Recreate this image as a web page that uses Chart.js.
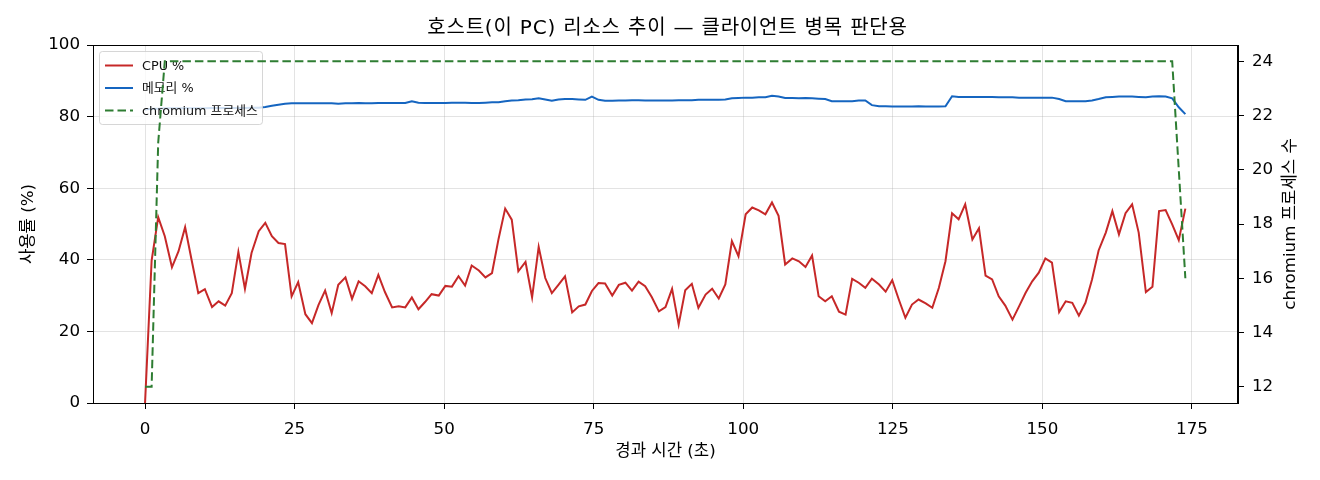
<!DOCTYPE html>
<html>
<head>
<meta charset="utf-8">
<script src="https://cdn.jsdelivr.net/npm/chart.js"></script>
<style>
  html, body { margin: 0; padding: 0; background: #fff; }
  #wrap { width: 1320px; height: 480px; }
</style>
</head>
<body>
<div id="wrap"><canvas id="host-chart" width="1320" height="480"></canvas></div>
<script>
// elapsed seconds of each sample
const elapsed = [
  0.0, 1.1, 2.2, 3.3, 4.5, 5.6, 6.7, 7.8, 8.9, 10.0, 11.2, 12.3, 13.4, 14.5, 15.6, 16.7,
  17.8, 19.0, 20.1, 21.2, 22.3, 23.4, 24.5, 25.6, 26.8, 27.9, 29.0, 30.1, 31.2, 32.3, 33.5,
  34.6, 35.7, 36.8, 37.9, 39.0, 40.1, 41.3, 42.4, 43.5, 44.6, 45.7, 46.8, 47.9, 49.1, 50.2,
  51.3, 52.4, 53.5, 54.6, 55.8, 56.9, 58.0, 59.1, 60.2, 61.3, 62.4, 63.6, 64.7, 65.8, 66.9,
  68.0, 69.1, 70.2, 71.4, 72.5, 73.6, 74.7, 75.8, 76.9, 78.1, 79.2, 80.3, 81.4, 82.5, 83.6,
  84.7, 85.9, 87.0, 88.1, 89.2, 90.3, 91.4, 92.5, 93.7, 94.8, 95.9, 97.0, 98.1, 99.2, 100.4,
  101.5, 102.6, 103.7, 104.8, 105.9, 107.0, 108.2, 109.3, 110.4, 111.5, 112.6, 113.7, 114.8,
  116.0, 117.1, 118.2, 119.3, 120.4, 121.5, 122.7, 123.8, 124.9, 126.0, 127.1, 128.2, 129.3,
  130.5, 131.6, 132.7, 133.8, 134.9, 136.0, 137.1, 138.3, 139.4, 140.5, 141.6, 142.7, 143.8,
  145.0, 146.1, 147.2, 148.3, 149.4, 150.5, 151.6, 152.8, 153.9, 155.0, 156.1, 157.2, 158.3,
  159.4, 160.6, 161.7, 162.8, 163.9, 165.0, 166.1, 167.3, 168.4, 169.5, 170.6, 171.7, 172.8,
  173.9
];

const cpuPct = [
  0, 39.8, 51.9, 46.6, 37.9, 42.4, 49.1, 39.8, 30.7, 31.8, 26.8, 28.4, 27.2, 30.7, 42.2, 31.9,
  41.9, 48.0, 50.3, 46.6, 44.7, 44.4, 29.8, 33.8, 24.8, 22.3, 27.4, 31.4, 25.1, 33.0, 35.1,
  29.1, 34.0, 32.6, 30.7, 35.8, 31.0, 26.7, 27.0, 26.7, 29.5, 26.2, 28.2, 30.4, 30.0, 32.7,
  32.5, 35.4, 32.8, 38.4, 37.0, 35.1, 36.3, 45.9, 54.3, 51.2, 36.8, 39.4, 29.5, 43.6, 34.9,
  30.7, 33.0, 35.4, 25.3, 27.0, 27.5, 31.3, 33.5, 33.4, 30.0, 33.0, 33.6, 31.4, 33.9, 32.6,
  29.6, 25.6, 26.8, 31.9, 21.9, 31.5, 33.3, 26.6, 30.3, 31.9, 29.2, 33.1, 45.2, 41.0, 52.7,
  54.6, 53.8, 52.7, 56.0, 52.3, 38.7, 40.4, 39.6, 38.0, 41.2, 29.8, 28.4, 29.8, 25.5, 24.7,
  34.7, 33.6, 32.2, 34.7, 33.1, 31.1, 34.3, 28.9, 23.8, 27.5, 28.9, 27.8, 26.6, 32.2, 39.6,
  53.0, 51.3, 55.5, 45.7, 48.8, 35.6, 34.5, 29.8, 27.2, 23.3, 27.0, 30.8, 34.0, 36.4, 40.4,
  39.2, 25.4, 28.4, 28.0, 24.4, 28.0, 34.5, 42.6, 47.6, 53.6, 47.1, 53.0, 55.5, 47.6, 31.0,
  32.5, 53.6, 53.9, 49.9, 45.5, 54.3
];

const memPct = [
  82.0, 82.2, 82.2, 82.3, 82.3, 82.3, 82.3, 82.3, 82.3, 82.3, 82.4, 82.4, 82.4, 82.4, 82.4, 82.4,
  82.5, 82.5, 82.7, 83.0, 83.3, 83.6, 83.7, 83.7, 83.7, 83.7, 83.7, 83.7, 83.7, 83.6, 83.7,
  83.7, 83.8, 83.7, 83.7, 83.8, 83.8, 83.8, 83.8, 83.8, 84.3, 83.9, 83.8, 83.8, 83.8, 83.8,
  83.9, 83.9, 83.9, 83.8, 83.8, 83.9, 84.0, 84.0, 84.3, 84.5, 84.6, 84.8, 84.85, 85.1, 84.8,
  84.4, 84.8, 84.9, 84.9, 84.8, 84.7, 85.6, 84.7, 84.4, 84.4, 84.5, 84.5, 84.6, 84.6, 84.5,
  84.5, 84.5, 84.5, 84.5, 84.6, 84.6, 84.6, 84.7, 84.7, 84.7, 84.7, 84.8, 85.1, 85.2, 85.3,
  85.3, 85.4, 85.4, 85.8, 85.6, 85.2, 85.2, 85.1, 85.2, 85.1, 85.0, 84.9, 84.3, 84.3, 84.3,
  84.3, 84.5, 84.5, 83.2, 82.9, 82.9, 82.8, 82.8, 82.8, 82.8, 82.9, 82.8, 82.8, 82.8, 82.9,
  85.7, 85.5, 85.5, 85.5, 85.5, 85.5, 85.5, 85.4, 85.4, 85.4, 85.3, 85.3, 85.3, 85.3, 85.3,
  85.3, 84.9, 84.3, 84.3, 84.3, 84.3, 84.5, 84.9, 85.4, 85.5, 85.6, 85.6, 85.6, 85.5, 85.4,
  85.6, 85.7, 85.6, 85.1, 82.6, 80.7
];

const chromiumProcs = [
  12, 12, 21, 24, 24, 24, 24, 24, 24, 24, 24, 24, 24, 24, 24, 24,
  24, 24, 24, 24, 24, 24, 24, 24, 24, 24, 24, 24, 24, 24, 24,
  24, 24, 24, 24, 24, 24, 24, 24, 24, 24, 24, 24, 24, 24, 24,
  24, 24, 24, 24, 24, 24, 24, 24, 24, 24, 24, 24, 24, 24, 24,
  24, 24, 24, 24, 24, 24, 24, 24, 24, 24, 24, 24, 24, 24, 24,
  24, 24, 24, 24, 24, 24, 24, 24, 24, 24, 24, 24, 24, 24, 24,
  24, 24, 24, 24, 24, 24, 24, 24, 24, 24, 24, 24, 24, 24, 24,
  24, 24, 24, 24, 24, 24, 24, 24, 24, 24, 24, 24, 24, 24, 24,
  24, 24, 24, 24, 24, 24, 24, 24, 24, 24, 24, 24, 24, 24, 24,
  24, 24, 24, 24, 24, 24, 24, 24, 24, 24, 24, 24, 24, 24, 24,
  24, 24, 24, 24, 20, 16
];

const xTicks = [0, 25, 50, 75, 100, 125, 150, 175];
const seriesNames = ['CPU %', '메모리 %', 'chromium 프로세스'];

const FONT = "'DejaVu Sans', 'Noto Sans CJK KR', sans-serif";
const GRID = 'rgba(176,176,176,0.35)';
const TICK_PX = 16.7;

function points(ys) {
    return elapsed.map((t, i) => ({ x: t, y: ys[i] }));
}

// matplotlib style legend box in the upper-left corner, drawn under the chromium line
const boxLegend = {
    id: 'boxLegend',
    afterDatasetDraw(chart, args) {
        if (args.index !== 1) return;
        const ctx = chart.ctx;
        const x = 99.5, y = 51.5, w = 163, h = 73;
        ctx.save();
        ctx.beginPath();
        ctx.roundRect(x, y, w, h, 3);
        ctx.fillStyle = 'rgba(255,255,255,0.8)';
        ctx.fill();
        ctx.strokeStyle = 'rgba(204,204,204,0.8)';
        ctx.lineWidth = 1;
        ctx.stroke();
        ctx.font = '12.8px ' + FONT;
        ctx.textBaseline = 'middle';
        chart.data.datasets.forEach((ds, i) => {
            const ry = 65.5 + i * 22.5;
            ctx.beginPath();
            ctx.setLineDash(ds.borderDash || []);
            ctx.strokeStyle = ds.borderColor;
            ctx.lineWidth = ds.borderWidth;
            ctx.moveTo(105, ry);
            ctx.lineTo(133, ry);
            ctx.stroke();
            ctx.setLineDash([]);
            ctx.fillStyle = '#111';
            ctx.fillText(ds.label, 142, ry + 1);
        });
        ctx.restore();
    }
};

// title, right axis title and the top spine
const decorations = {
    id: 'decorations',
    afterDraw(chart) {
        const ctx = chart.ctx;
        const a = chart.chartArea;
        ctx.save();
        ctx.strokeStyle = '#000';
        ctx.lineWidth = 1;
        ctx.strokeRect(a.left + 0.5, a.top + 0.5, a.right - a.left - 1, a.bottom - a.top);
        ctx.fillStyle = '#000';
        ctx.font = '20px ' + FONT;
        ctx.letterSpacing = '0.8px';
        ctx.textAlign = 'center';
        ctx.textBaseline = 'middle';
        ctx.fillText('호스트(이 PC) 리소스 추이 — 클라이언트 병목 판단용', (a.left + a.right) / 2 + 2, 28.5);
        ctx.letterSpacing = '0px';
        ctx.font = TICK_PX + 'px ' + FONT;
        ctx.translate(1291, (a.top + a.bottom) / 2);
        ctx.rotate(-Math.PI / 2);
        ctx.fillText('chromium 프로세스 수', 0, 0);
        ctx.restore();
    }
};

new Chart(document.getElementById('host-chart').getContext('2d'), {
    type: 'line',
    data: {
        datasets: [
            {
                label: seriesNames[0],
                data: points(cpuPct),
                borderColor: 'rgb(198,40,40)',
                borderWidth: 2,
                pointRadius: 0,
                yAxisID: 'y',
                order: 2,
            },
            {
                label: seriesNames[1],
                data: points(memPct),
                borderColor: 'rgb(21,101,192)',
                borderWidth: 2,
                pointRadius: 0,
                yAxisID: 'y',
                order: 1,
            },
            {
                label: seriesNames[2],
                data: points(chromiumProcs),
                borderColor: 'rgb(46,125,50)',
                borderWidth: 2,
                borderDash: [8.5, 4],
                pointRadius: 0,
                yAxisID: 'y1',
                order: 0,
            },
        ],
    },
    options: {
        responsive: false,
        animation: false,
        devicePixelRatio: 1,
        layout: { padding: { top: 45, left: 0, right: 0, bottom: 0 } },
        plugins: {
            legend: { display: false },
            title: { display: false },
            tooltip: { enabled: false },
        },
        scales: {
            x: {
                type: 'linear',
                position: 'bottom',
                min: -8.7,
                max: 182.7,
                afterBuildTicks: (scale) => { scale.ticks = xTicks.map((v) => ({ value: v })); },
                afterFit: (scale) => { scale.height = 77; },
                ticks: { font: { family: FONT, size: TICK_PX }, color: '#000', padding: 11, maxRotation: 0 },
                grid: { color: GRID, tickColor: '#000', tickLength: 6, lineWidth: 1 },
                border: { color: '#000', width: 1 },
                title: {
                    display: true,
                    text: '경과 시간 (초)',
                    font: { family: FONT, size: TICK_PX },
                    color: '#000',
                    padding: { top: 0, bottom: 18 },
                },
            },
            y: {
                position: 'left',
                min: 0,
                max: 100,
                ticks: { stepSize: 20, font: { family: FONT, size: TICK_PX }, color: '#000', padding: 7 },
                afterFit: (scale) => { scale.width = 93; },
                grid: { color: GRID, tickColor: '#000', tickLength: 6, lineWidth: 1 },
                border: { color: '#000', width: 1 },
                title: {
                    display: true,
                    text: '사용률 (%)',
                    font: { family: FONT, size: TICK_PX },
                    color: '#000',
                    padding: { top: 19, bottom: 0 },
                },
            },
            y1: {
                position: 'right',
                min: 11.4,
                max: 24.6,
                ticks: { stepSize: 2, includeBounds: false, font: { family: FONT, size: TICK_PX }, color: '#000', padding: 8 },
                afterFit: (scale) => { scale.width = 82; },
                grid: { drawOnChartArea: false, tickColor: '#000', tickLength: 6 },
                border: { color: '#000', width: 1 },
            },
        },
    },
    plugins: [boxLegend, decorations],
});
</script>
</body>
</html>
